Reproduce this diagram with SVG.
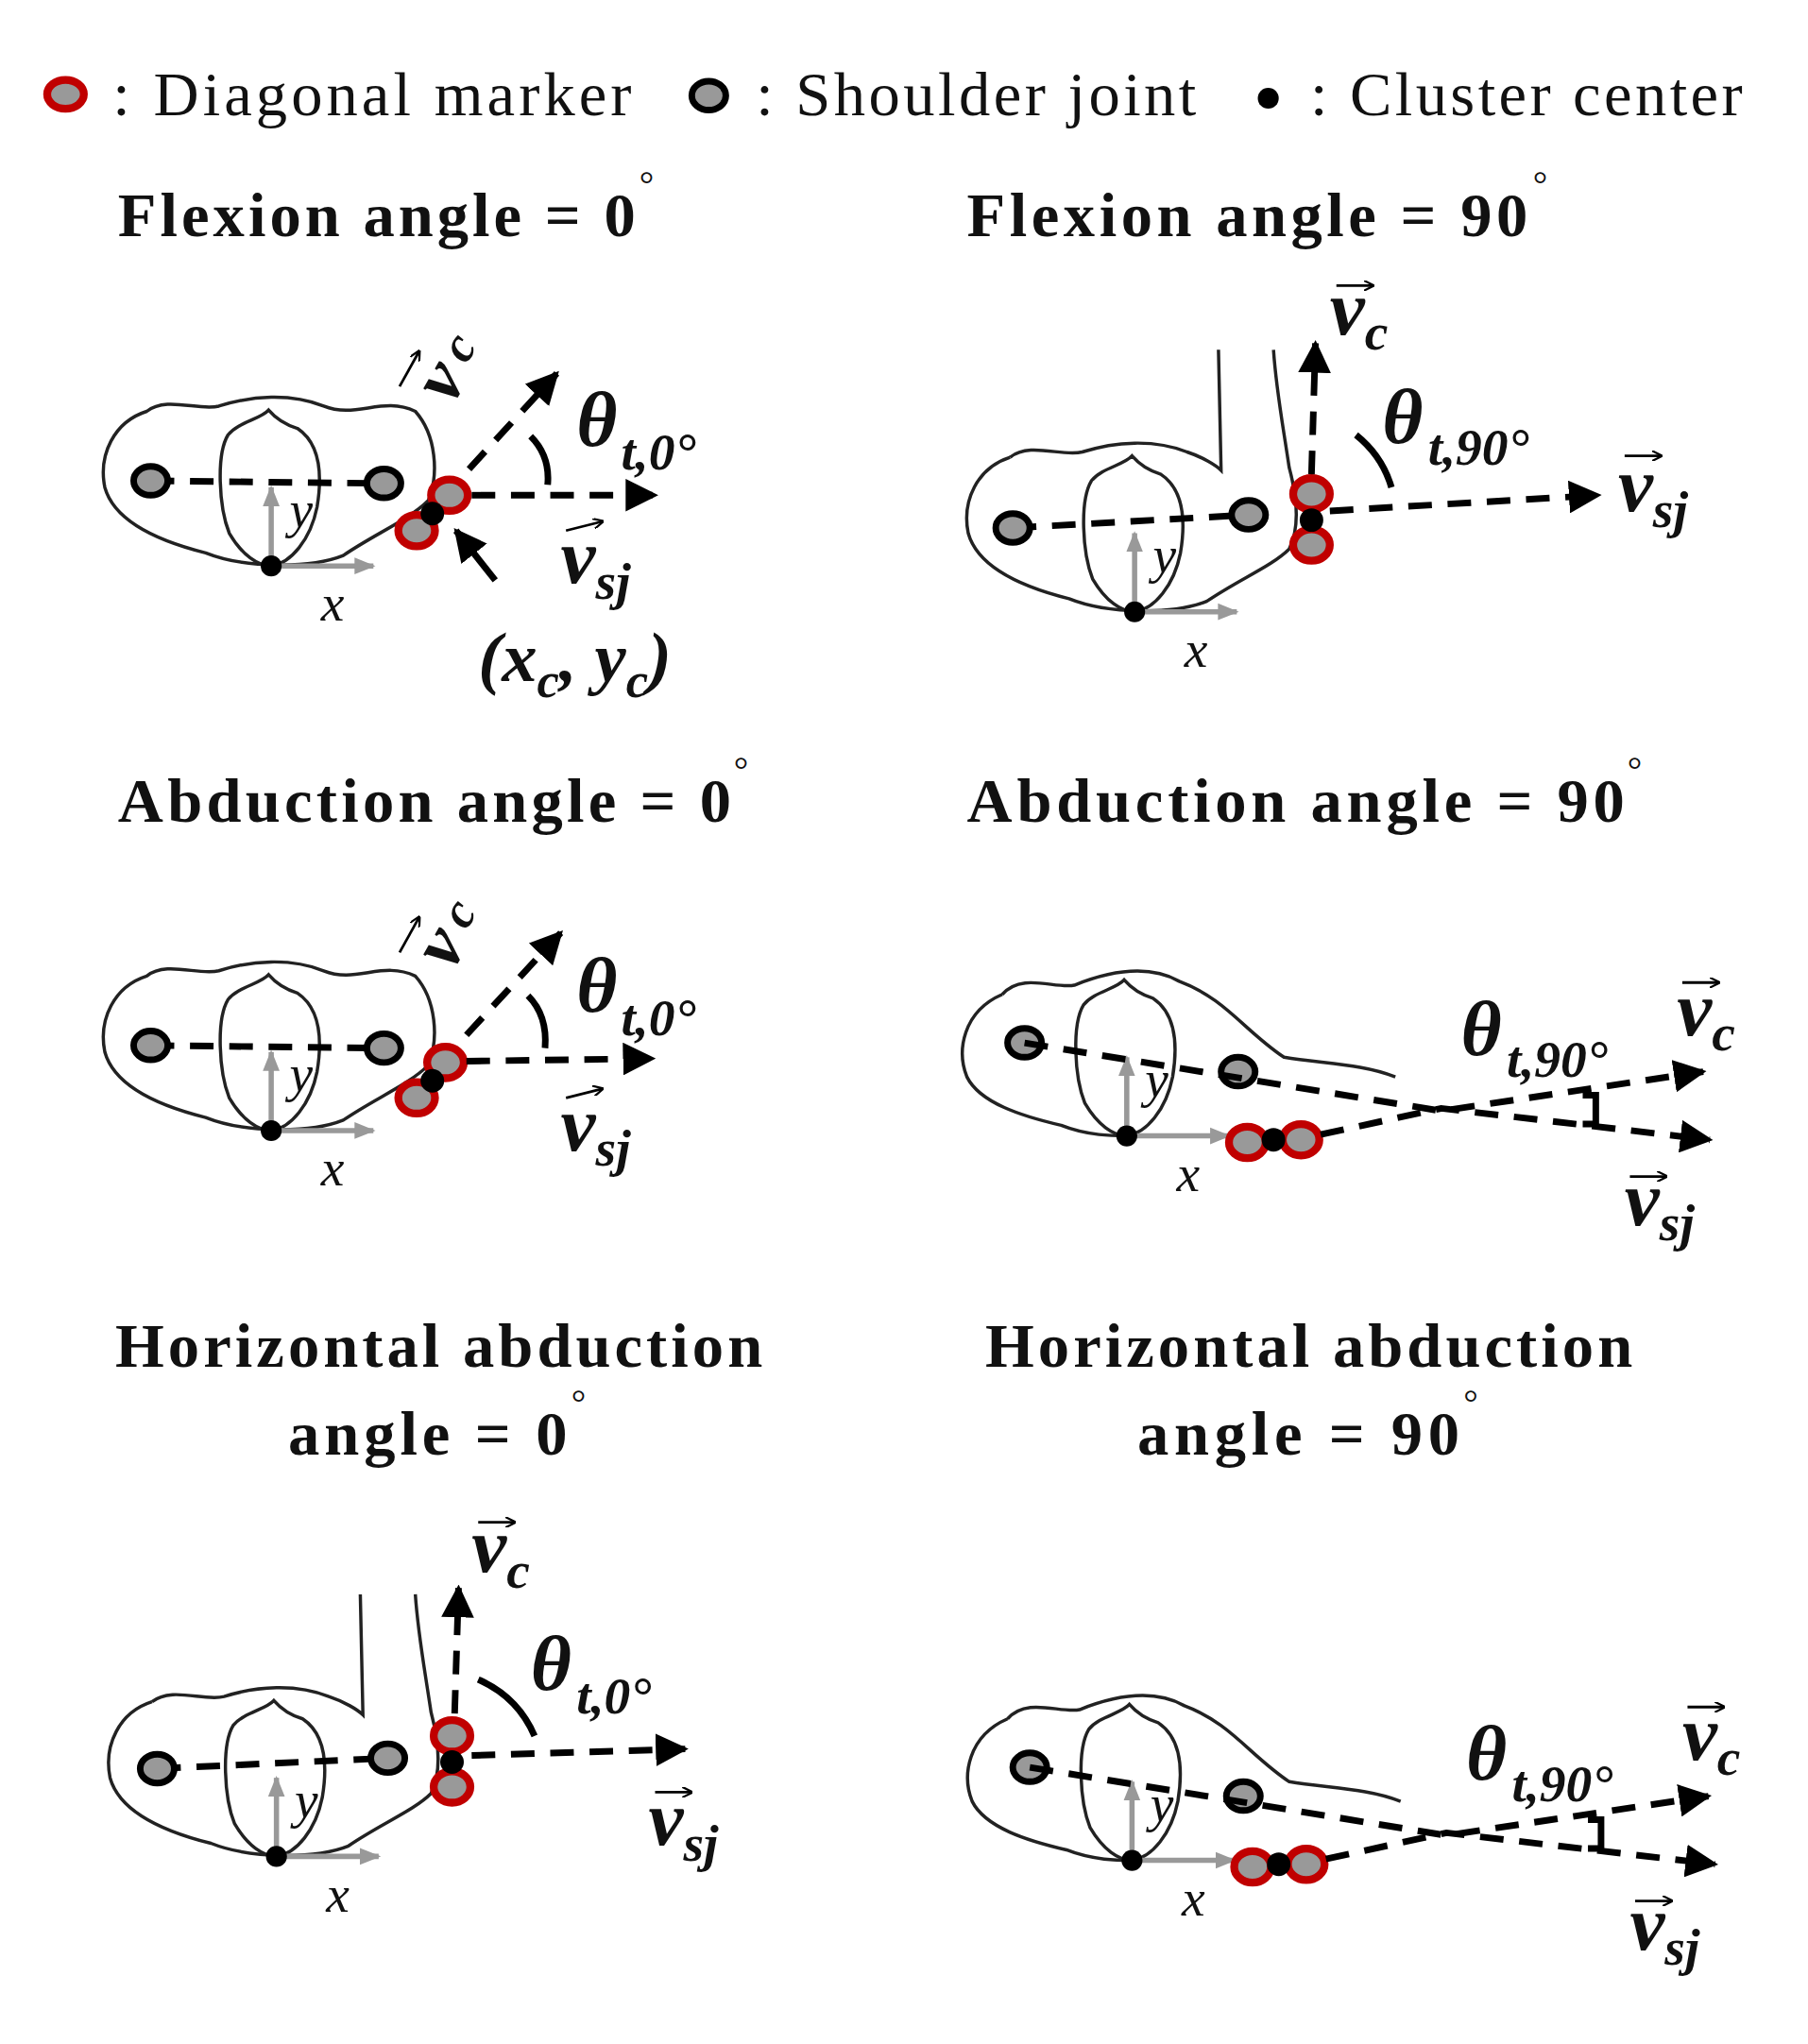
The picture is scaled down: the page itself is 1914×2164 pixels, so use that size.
<svg xmlns="http://www.w3.org/2000/svg" width="1914" height="2164" viewBox="0 0 1914 2164">
<defs>
<style>
.t{font-family:"Liberation Serif",serif;font-size:48px;fill:#111}
.b{font-family:"Liberation Serif",serif;font-size:48px;font-weight:bold;fill:#111}
.dg{font-family:"Liberation Serif",serif;font-size:28px;fill:#111}
.m{font-family:"Liberation Serif",serif;font-style:italic;font-weight:bold;fill:#111}
.ax{font-family:"Liberation Serif",serif;font-style:italic;font-size:40px;fill:#111}
.ol{fill:none;stroke:#222;stroke-width:2.5}
.dash{fill:none;stroke:#000;stroke-width:5;stroke-dasharray:18 12}
.sj{fill:#999;stroke:#000;stroke-width:5}
.dm{fill:#999;stroke:#c00000;stroke-width:6}
.arc{fill:none;stroke:#000;stroke-width:5}
.g{stroke:#999;stroke-width:4;fill:none}
.va{stroke:#000;stroke-width:2;fill:none}
</style>
<marker id="ah" viewBox="0 0 10 10" refX="9" refY="5" markerWidth="5" markerHeight="5" orient="auto" markerUnits="strokeWidth"><path d="M0,0L10,5L0,10Z" fill="#000"/></marker>
<marker id="sa" viewBox="0 0 10 10" refX="9" refY="5" markerWidth="4" markerHeight="4" orient="auto"><path d="M0,0L10,5L0,10" fill="none" stroke="#000" stroke-width="2"/></marker>
<marker id="ga" viewBox="0 0 10 10" refX="9" refY="5" markerWidth="4" markerHeight="4" orient="auto"><path d="M0,1L10,5L0,9Z" fill="#999"/></marker>
<g id="body">
<path class="ol" d="M-95,-118 C-80,-130 -55,-118 -40,-122 C-15,-130 15,-132 40,-122 C65,-112 85,-130 110,-118 C126,-100 128,-70 120,-50 C105,-35 80,-25 55,-8 C30,2 -20,2 -50,-10 C-90,-20 -120,-35 -127,-60 C-132,-85 -120,-110 -95,-118 Z"/>
<path class="ol" d="M-2,-119 C-8,-112 -25,-110 -33,-100 C-42,-85 -40,-45 -32,-25 C-22,-8 -10,0 0,0 C15,-2 30,-20 35,-45 C40,-75 35,-95 20,-105 C10,-108 4,-112 -2,-119 Z"/>
</g>
<g id="armbody">
<path class="ol" d="M-95,-118 C-80,-130 -55,-118 -40,-122 C-15,-130 15,-132 40,-122 C52,-118 62,-112 66,-108 L64,-200"/>
<path class="ol" d="M106,-200 C108,-170 112,-150 118,-110 C126,-80 124,-60 118,-48 C105,-35 80,-25 55,-8 C30,2 -20,2 -50,-10 C-90,-20 -120,-35 -127,-60 C-132,-85 -120,-110 -95,-118"/>
<path class="ol" d="M-2,-119 C-8,-112 -25,-110 -33,-100 C-42,-85 -40,-45 -32,-25 C-22,-8 -10,0 0,0 C15,-2 30,-20 35,-45 C40,-75 35,-95 20,-105 C10,-108 4,-112 -2,-119 Z"/>
</g>
<g id="latbody">
<path class="ol" d="M-95,-108 C-80,-125 -55,-112 -40,-115 C-15,-125 15,-132 40,-118 C75,-105 90,-80 120,-60 C150,-55 180,-55 205,-45 M-95,-108 C-125,-95 -130,-65 -122,-45 C-112,-25 -80,-15 -50,-8 C-30,0 -10,0 0,0"/>
<path class="ol" d="M-2,-119 C-8,-112 -25,-110 -33,-100 C-42,-85 -40,-45 -32,-25 C-22,-8 -10,0 0,0 C15,-2 30,-20 35,-45 C40,-75 35,-95 20,-105 C10,-108 4,-112 -2,-119 Z"/>
</g>
<g id="axes">
<line class="g" x1="0" y1="0" x2="0" y2="-60" marker-end="url(#ga)"/>
<line class="g" x1="0" y1="0" x2="78" y2="0" marker-end="url(#ga)"/>
<circle r="8" fill="#000"/>
<text class="ax" x="14" y="-30">y</text>
<text class="ax" x="38" y="42">x</text>
</g>
</defs>
<rect width="1914" height="2164" fill="#fff"/>
<g transform="scale(1.387)">
<g id="legend">
<ellipse cx="50" cy="72" rx="14" ry="11" class="dm"/>
<text class="t" x="86" y="88" textLength="396">: Diagonal marker</text>
<ellipse cx="541" cy="73" rx="13" ry="11" class="sj" stroke-width="4"/>
<text class="t" x="577" y="88" textLength="336">: Shoulder joint</text>
<circle cx="968" cy="75" r="8" fill="#000"/>
<text class="t" x="1000" y="88" textLength="330">: Cluster center</text>
</g>
<g id="titles">
<text class="b" x="90" y="180" textLength="395">Flexion angle = 0</text><text class="dg" x="488" y="150">°</text>
<text class="b" x="738" y="180" textLength="428">Flexion angle = 90</text><text class="dg" x="1170" y="150">°</text>
<text class="b" x="90" y="627" textLength="468">Abduction angle = 0</text><text class="dg" x="560" y="597">°</text>
<text class="b" x="738" y="627" textLength="502">Abduction angle = 90</text><text class="dg" x="1242" y="597">°</text>
<text class="b" x="88" y="1043" textLength="494">Horizontal abduction</text>
<text class="b" x="220" y="1110" textLength="213">angle = 0</text><text class="dg" x="436" y="1080">°</text>
<text class="b" x="752" y="1043" textLength="494">Horizontal abduction</text>
<text class="b" x="868" y="1110" textLength="246">angle = 90</text><text class="dg" x="1117" y="1080">°</text>
</g>

<g id="panel1">
<use href="#body" x="207" y="432"/>
<line class="dash" x1="115" y1="367" x2="293" y2="369"/>
<ellipse cx="115" cy="367" rx="13" ry="11" class="sj"/>
<ellipse cx="293" cy="369" rx="13" ry="11" class="sj"/>
<use href="#axes" x="207" y="432"/>
<ellipse cx="343" cy="378" rx="14" ry="12" class="dm"/>
<ellipse cx="318" cy="405" rx="14" ry="12" class="dm"/>
<circle cx="330" cy="392" r="9" fill="#000"/>
<path class="arc" d="M405,333 Q420,348 418,370"/>
<text class="m" x="440" y="340" font-size="60">θ</text>
<text class="m" x="474" y="358" font-size="40">t,0°</text>
<line class="va" x1="432" y1="405" x2="460" y2="398" marker-end="url(#sa)"/>
<text class="m" x="428" y="445" font-size="60">v<tspan font-size="40" dy="12">sj</tspan></text>
<text class="m" x="365" y="520" font-size="54" font-weight="normal">(x<tspan font-size="38" dy="12">c</tspan><tspan dy="-12">, y</tspan><tspan font-size="38" dy="12">c</tspan><tspan dy="-12">)</tspan></text>
<g transform="translate(345,310) rotate(-60)"><text class="m" font-size="56" x="0" y="0">v<tspan font-size="38" dy="-6" dx="8">c</tspan></text></g>
<line class="va" x1="305" y1="295" x2="320" y2="268" marker-end="url(#sa)"/>
</g>

<g id="panel2">
<use href="#armbody" x="866" y="467"/>
<line class="dash" x1="773" y1="403" x2="953" y2="393"/>
<ellipse cx="773" cy="403" rx="13" ry="11" class="sj"/>
<ellipse cx="953" cy="393" rx="13" ry="11" class="sj"/>
<use href="#axes" x="866" y="467"/>
<ellipse cx="1001" cy="377" rx="14" ry="12" class="dm"/>
<ellipse cx="1001" cy="416" rx="14" ry="12" class="dm"/>
<circle cx="1001" cy="397" r="9" fill="#000"/>
<text class="m" x="1055" y="338" font-size="60">θ</text>
<text class="m" x="1090" y="355" font-size="40">t,90°</text>
<line class="va" x1="1020" y1="218" x2="1048" y2="218" marker-end="url(#sa)"/>
<text class="m" x="1015" y="255" font-size="60">v<tspan font-size="40" dy="12">c</tspan></text>
<line class="va" x1="1240" y1="348" x2="1268" y2="348" marker-end="url(#sa)"/>
<text class="m" x="1235" y="390" font-size="60">v<tspan font-size="40" dy="12">sj</tspan></text>
</g>

<g id="panel3">
<use href="#body" x="207" y="863"/>
<line class="dash" x1="115" y1="798" x2="293" y2="800"/>
<ellipse cx="115" cy="798" rx="13" ry="11" class="sj"/>
<ellipse cx="293" cy="800" rx="13" ry="11" class="sj"/>
<use href="#axes" x="207" y="863"/>
<ellipse cx="340" cy="811" rx="14" ry="12" class="dm"/>
<ellipse cx="318" cy="838" rx="14" ry="12" class="dm"/>
<circle cx="330" cy="825" r="9" fill="#000"/>
<path class="arc" d="M403,760 Q418,775 416,800"/>
<text class="m" x="440" y="772" font-size="60">θ</text>
<text class="m" x="474" y="790" font-size="40">t,0°</text>
<line class="va" x1="432" y1="838" x2="460" y2="831" marker-end="url(#sa)"/>
<text class="m" x="428" y="878" font-size="60">v<tspan font-size="40" dy="12">sj</tspan></text>
<g transform="translate(345,742) rotate(-60)"><text class="m" font-size="56" x="0" y="0">v<tspan font-size="38" dy="-6" dx="8">c</tspan></text></g>
<line class="va" x1="305" y1="727" x2="320" y2="700" marker-end="url(#sa)"/>
</g>

<g id="panel4">
<use href="#latbody" x="860" y="867"/>
<ellipse cx="782" cy="796" rx="13" ry="11" class="sj"/>
<ellipse cx="945" cy="818" rx="13" ry="11" class="sj"/>
<use href="#axes" x="860" y="867"/>
<ellipse cx="952" cy="872" rx="14" ry="12" class="dm"/>
<ellipse cx="993" cy="870" rx="14" ry="12" class="dm"/>
<circle cx="972" cy="870" r="9" fill="#000"/>
<path class="arc" d="M1208,836 L1218,836 L1218,858 L1208,858"/>
<text class="m" x="1115" y="805" font-size="60">θ</text>
<text class="m" x="1150" y="822" font-size="40">t,90°</text>
<line class="va" x1="1284" y1="750" x2="1312" y2="750" marker-end="url(#sa)"/>
<text class="m" x="1280" y="790" font-size="60">v<tspan font-size="40" dy="12">c</tspan></text>
<line class="va" x1="1244" y1="898" x2="1272" y2="898" marker-end="url(#sa)"/>
<text class="m" x="1240" y="935" font-size="60">v<tspan font-size="40" dy="12">sj</tspan></text>
</g>

<g id="panel5">
<use href="#armbody" x="211" y="1417"/>
<line class="dash" x1="120" y1="1350" x2="296" y2="1342"/>
<ellipse cx="120" cy="1350" rx="13" ry="11" class="sj"/>
<ellipse cx="296" cy="1342" rx="13" ry="11" class="sj"/>
<use href="#axes" x="211" y="1417"/>
<ellipse cx="345" cy="1325" rx="14" ry="12" class="dm"/>
<ellipse cx="345" cy="1364" rx="14" ry="12" class="dm"/>
<circle cx="345" cy="1345" r="9" fill="#000"/>
<text class="m" x="405" y="1290" font-size="60">θ</text>
<text class="m" x="440" y="1308" font-size="40">t,0°</text>
<line class="va" x1="365" y1="1162" x2="393" y2="1162" marker-end="url(#sa)"/>
<text class="m" x="360" y="1200" font-size="60">v<tspan font-size="40" dy="12">c</tspan></text>
<line class="va" x1="500" y1="1368" x2="528" y2="1368" marker-end="url(#sa)"/>
<text class="m" x="495" y="1408" font-size="60">v<tspan font-size="40" dy="12">sj</tspan></text>
</g>

<g id="panel6">
<use href="#latbody" x="864" y="1420"/>
<ellipse cx="786" cy="1349" rx="13" ry="11" class="sj"/>
<ellipse cx="949" cy="1371" rx="13" ry="11" class="sj"/>
<use href="#axes" x="864" y="1420"/>
<ellipse cx="956" cy="1425" rx="14" ry="12" class="dm"/>
<ellipse cx="997" cy="1423" rx="14" ry="12" class="dm"/>
<circle cx="976" cy="1423" r="9" fill="#000"/>
<path class="arc" d="M1212,1389 L1222,1389 L1222,1411 L1212,1411"/>
<text class="m" x="1119" y="1358" font-size="60">θ</text>
<text class="m" x="1154" y="1375" font-size="40">t,90°</text>
<line class="va" x1="1288" y1="1303" x2="1316" y2="1303" marker-end="url(#sa)"/>
<text class="m" x="1284" y="1343" font-size="60">v<tspan font-size="40" dy="12">c</tspan></text>
<line class="va" x1="1248" y1="1451" x2="1276" y2="1451" marker-end="url(#sa)"/>
<text class="m" x="1244" y="1488" font-size="60">v<tspan font-size="40" dy="12">sj</tspan></text>
</g>

<g id="connectors">
<line class="dash" x1="360" y1="378" x2="500" y2="378" marker-end="url(#ah)"/>
<line class="dash" x1="358" y1="358" x2="425" y2="285" marker-end="url(#ah)"/>
<line class="arc" x1="378" y1="443" x2="348" y2="405" marker-end="url(#ah)"/>
<line class="dash" x1="1015" y1="390" x2="1220" y2="378" marker-end="url(#ah)"/>
<line class="dash" x1="1001" y1="362" x2="1004" y2="262" marker-end="url(#ah)"/>
<path class="arc" d="M1035,332 Q1055,348 1062,372"/>
<line class="dash" x1="356" y1="810" x2="498" y2="808" marker-end="url(#ah)"/>
<line class="dash" x1="356" y1="790" x2="428" y2="712" marker-end="url(#ah)"/>
<polyline class="dash" points="782,796 1100,848 1300,818" marker-end="url(#ah)"/>
<polyline class="dash" points="1008,866 1100,846 1305,870" marker-end="url(#ah)"/>
<line class="dash" x1="360" y1="1340" x2="523" y2="1335" marker-end="url(#ah)"/>
<line class="dash" x1="347" y1="1308" x2="350" y2="1212" marker-end="url(#ah)"/>
<path class="arc" d="M365,1282 Q395,1295 408,1325"/>
<polyline class="dash" points="786,1349 1104,1401 1304,1371" marker-end="url(#ah)"/>
<polyline class="dash" points="1012,1419 1104,1399 1309,1423" marker-end="url(#ah)"/>
</g>
</g>
</svg>
